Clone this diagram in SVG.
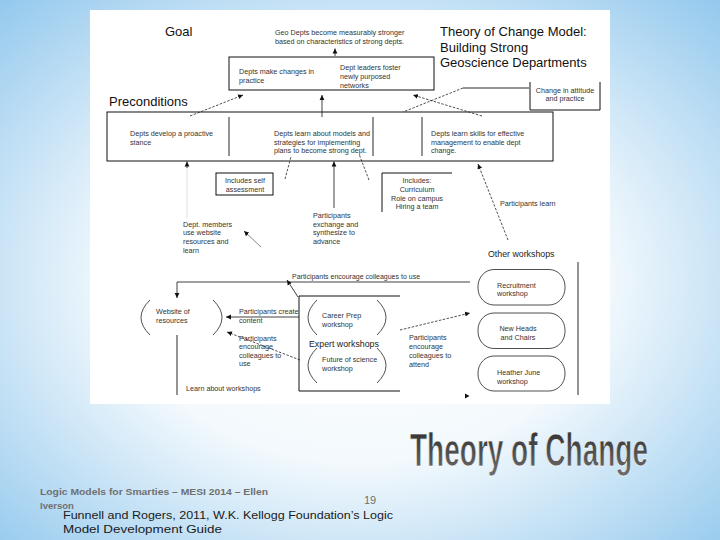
<svg xmlns="http://www.w3.org/2000/svg" width="720" height="540" viewBox="0 0 720 540">
<defs>
<radialGradient id="bg" cx="50%" cy="52%" r="75%">
<stop offset="0" stop-color="#ffffff"/>
<stop offset="0.45" stop-color="#f3f9fd"/>
<stop offset="1" stop-color="#8cc5ec"/>
</radialGradient>
<linearGradient id="tg" x1="0" y1="0" x2="0" y2="1">
<stop offset="0" stop-color="#2a2a2a"/>
<stop offset="1" stop-color="#6e6e6e"/>
</linearGradient>
<marker id="ah" markerUnits="userSpaceOnUse" markerWidth="6" markerHeight="6" refX="5" refY="3" orient="auto">
<path d="M0,0.6 L5,3 L0,5.4 Z" fill="#111"/>
</marker>
<style>
.s{font-family:"Liberation Sans",Arial,sans-serif;font-size:7.2px;fill:#333}
.m{font-family:"Liberation Sans",Arial,sans-serif;font-size:8.8px;fill:#222}
.h{font-family:"Liberation Sans",Arial,sans-serif;font-size:13px;fill:#111}
.c{text-anchor:middle}
.box{fill:none;stroke:#111;stroke-width:1}
.ln{fill:none;stroke:#111;stroke-width:0.9}
.ar{fill:none;stroke:#111;stroke-width:0.8;marker-end:url(#ah)}
.da{fill:none;stroke:#222;stroke-width:0.8;stroke-dasharray:2.5 1.5}
.dam{fill:none;stroke:#222;stroke-width:0.8;stroke-dasharray:2.5 1.5;marker-end:url(#ah)}
.br{fill:none;stroke:#222;stroke-width:0.8}
.faint{fill:none;stroke:#d6d6d6;stroke-width:0.8}
.ft{font-family:"Liberation Sans Narrow","Liberation Sans",Arial,sans-serif}
</style>
</defs>
<rect x="0" y="0" width="720" height="540" fill="url(#bg)"/>
<rect x="90" y="10" width="520" height="394" fill="#ffffff"/>

<g id="headings">
<text class="h" x="165" y="36">Goal</text>
<text class="h" x="109" y="106">Preconditions</text>
<text class="h" x="440" y="36">Theory of Change Model:</text>
<text class="h" x="440" y="52">Building Strong</text>
<text class="h" x="440" y="67">Geoscience Departments</text>
</g>

<g id="goal-text">
<text class="s" x="275" y="35">Geo Depts become measurably stronger</text>
<text class="s" x="275" y="44">based on characteristics of strong depts.</text>
</g>

<g id="goal-box">
<rect class="box" x="229" y="57" width="205" height="33"/>
<text class="s" x="239" y="74">Depts make changes in</text>
<text class="s" x="239" y="83">practice</text>
<text class="s" x="340" y="70">Dept leaders foster</text>
<text class="s" x="340" y="78.5">newly purposed</text>
<text class="s" x="340" y="87.5">networks</text>
</g>

<g id="change-box">
<path class="box" d="M530,82 V110 H600 V82"/>
<text class="s c" x="565" y="92.5">Change in attitude</text>
<text class="s c" x="565" y="101">and practice</text>
</g>

<g id="preconditions-box">
<rect class="box" x="107" y="112" width="446" height="49"/>
<line class="ln" x1="229" y1="117" x2="229" y2="156"/>
<line class="ln" x1="373" y1="117" x2="373" y2="156"/>
<line class="ln" x1="422" y1="117" x2="422" y2="156"/>
<text class="s" x="130" y="136">Depts develop a proactive</text>
<text class="s" x="130" y="144.5">stance</text>
<text class="s" x="274" y="136">Depts learn about models and</text>
<text class="s" x="274" y="144.5">strategies for implementing</text>
<text class="s" x="274" y="153">plans to become strong dept.</text>
<text class="s" x="431" y="136">Depts learn skills for effective</text>
<text class="s" x="431" y="144.5">management to enable dept</text>
<text class="s" x="431" y="153">change.</text>
</g>

<g id="self-assessment">
<rect class="box" x="216" y="173" width="57" height="22"/>
<text class="s c" x="245" y="183">Includes self</text>
<text class="s c" x="245" y="192">assessment</text>
</g>

<g id="includes">
<path class="box" d="M382,212 V173 H452"/>
<text class="s c" x="417" y="183">Includes:</text>
<text class="s c" x="417" y="192">Curriculum</text>
<text class="s c" x="417" y="201">Role on campus</text>
<text class="s c" x="417" y="209">Hiring a team</text>
</g>

<g id="exchange">
<text class="s" x="313" y="218">Participants</text>
<text class="s" x="313" y="227">exchange and</text>
<text class="s" x="313" y="235">synthesize to</text>
<text class="s" x="313" y="244">advance</text>
</g>

<g id="dept-members">
<text class="s" x="183" y="227">Dept. members</text>
<text class="s" x="183" y="235">use website</text>
<text class="s" x="183" y="244">resources and</text>
<text class="s" x="183" y="252.5">learn</text>
</g>

<g id="website">
<path class="br" d="M150,300 Q132,317.5 150,335"/>
<path class="br" d="M213,300 Q231,317.5 213,335"/>
<text class="s" x="156" y="314">Website of</text>
<text class="s" x="156" y="323">resources</text>
</g>

<g id="expert-workshops">
<path class="box" d="M400,296 H299 V391 H400"/>
<path class="br" d="M317,300 Q299,317.5 317,335"/>
<path class="br" d="M377,300 Q395,317.5 377,335"/>
<text class="s" x="322" y="317.5">Career Prep</text>
<text class="s" x="322" y="326.5">workshop</text>
<text class="m" x="309" y="346.5">Expert workshops</text>
<path class="br" d="M317,348 Q299,365.5 317,383"/>
<path class="br" d="M377,348 Q395,365.5 377,383"/>
<text class="s" x="322" y="362">Future of science</text>
<text class="s" x="322" y="371">workshop</text>
</g>

<g id="other-workshops">
<text class="m" x="488" y="256.5">Other workshops</text>
<line class="ln" x1="578" y1="262" x2="578" y2="395"/>
<rect class="br" x="478" y="269.5" width="87" height="35.5" rx="16" ry="17"/>
<text class="s" x="497" y="287.5">Recruitment</text>
<text class="s" x="497" y="296">workshop</text>
<rect class="br" x="478" y="313" width="87" height="35.5" rx="16" ry="17"/>
<text class="s c" x="518" y="331">New Heads</text>
<text class="s c" x="518" y="340">and Chairs</text>
<rect class="br" x="478" y="356" width="87" height="35" rx="16" ry="17"/>
<text class="s" x="497" y="375">Heather June</text>
<text class="s" x="497" y="383.5">workshop</text>
</g>

<g id="connectors">
<line class="ar" x1="335" y1="56" x2="335" y2="48.5"/>
<line class="dam" x1="190" y1="116" x2="243" y2="95"/>
<line class="ar" x1="322" y1="117" x2="322" y2="95"/>
<line class="ln" x1="463" y1="88" x2="529" y2="88"/>
<line class="da" x1="463" y1="88" x2="403" y2="112"/>
<line class="dam" x1="482" y1="116" x2="413" y2="95"/>
<line class="faint" x1="187" y1="168" x2="187" y2="218"/>
<line class="ar" x1="187" y1="168" x2="187" y2="161.5"/>
<line class="da" x1="285" y1="179" x2="291" y2="157"/>
<line class="ar" x1="334" y1="208" x2="334" y2="161.5"/>
<line class="da" x1="369" y1="180" x2="359" y2="154"/>
<line class="dam" x1="508" y1="240" x2="478" y2="164"/>
<text class="s" x="500" y="206">Participants learn</text>
<line x1="261" y1="247" x2="244" y2="231" stroke="#555" stroke-width="0.7" marker-end="url(#ah)"/>
<text class="s" x="292" y="279" style="font-size:7px">Participants encourage  colleagues to use</text>
<path class="ar" d="M470,282 H177 V298"/>
<line class="ar" x1="298" y1="297" x2="287" y2="280"/>
<line class="ln" x1="177" y1="335" x2="177" y2="395"/>
<text class="s" x="186" y="391">Learn about workshops</text>
<line class="ar" x1="299" y1="317" x2="226" y2="317"/>
<text class="s" x="239" y="314">Participants create</text>
<text class="s" x="239" y="323">content</text>
<line class="dam" x1="300" y1="360" x2="227" y2="332"/>
<text class="s" x="239" y="341">Participants</text>
<text class="s" x="239" y="349">encourage</text>
<text class="s" x="239" y="357.5">colleagues to</text>
<text class="s" x="239" y="366">use</text>
<line class="dam" x1="400" y1="330" x2="470" y2="313"/>
<text class="s" x="409" y="340">Participants</text>
<text class="s" x="409" y="349">encourage</text>
<text class="s" x="409" y="357.5">colleagues to</text>
<text class="s" x="409" y="366.5">attend</text>
<path d="M465,393.5 L469.5,396 L465,398.5 Z" fill="#111"/>
</g>

<g id="slide-title">
<text transform="translate(410,466) scale(1,1.37)" x="0" y="0" font-family="'Liberation Sans Narrow','Liberation Sans',Arial,sans-serif" font-weight="bold" font-size="34" fill="url(#tg)" stroke="#ffffff" stroke-width="0.5" textLength="238" lengthAdjust="spacingAndGlyphs">Theory of Change</text>
</g>

<g id="footer">
<text class="ft" x="40" y="495" font-size="9.5" font-weight="bold" fill="#707070" textLength="228" lengthAdjust="spacingAndGlyphs">Logic Models for Smarties – MESI 2014 – Ellen</text>
<text class="ft" x="40" y="509" font-size="9.5" font-weight="bold" fill="#707070">Iverson</text>
<text class="ft" x="364" y="504" font-size="11" fill="#707070">19</text>
<text class="ft" x="63" y="519" font-size="11" fill="#1a1a1a" textLength="330" lengthAdjust="spacingAndGlyphs">Funnell and Rogers, 2011, W.K. Kellogg Foundation’s Logic</text>
<text class="ft" x="63" y="533" font-size="11" fill="#1a1a1a" textLength="159" lengthAdjust="spacingAndGlyphs">Model Development Guide</text>
</g>
</svg>
